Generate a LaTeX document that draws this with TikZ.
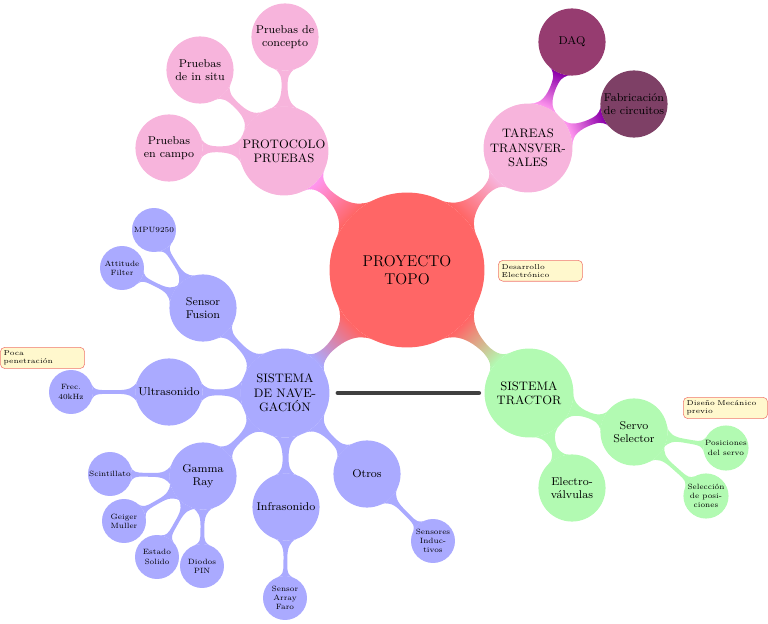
\documentclass[tikz,border=0pt]{standalone}
\usetikzlibrary{mindmap,shadings,decorations}
\pgfdeclarelayer{background}
\pgfsetlayers{background,main}
\definecolor{redc}{RGB}{255,102,102}
\definecolor{pinkc}{RGB}{247,180,220}
\definecolor{pinkbar}{RGB}{255,150,238}
\definecolor{purplebar}{RGB}{140,0,170}
\definecolor{daqc}{RGB}{150,60,112}
\definecolor{fabc}{RGB}{126,64,102}
\definecolor{bluec}{RGB}{170,170,255}
\definecolor{greenc}{RGB}{178,250,178}
\definecolor{notefill}{RGB}{255,248,205}
\definecolor{noteline}{RGB}{240,120,110}
\begin{document}
\begin{tikzpicture}[x=0.7346pt,y=-0.7346pt,
  cpt/.style={circle, inner sep=0pt, align=center, text=black, line width=0.8pt},
  cf/.style={fill=#1, draw=#1},
  rootc/.style={cpt, cf=redc, minimum size=113pt, font=\fontsize{11.5}{13.5}\selectfont},
  lone/.style={cpt, minimum size=64.5pt, font=\fontsize{9}{10.5}\selectfont},
  ltwo/.style={cpt, minimum size=48.5pt, font=\fontsize{8.3}{9.8}\selectfont},
  lthree/.style={cpt, minimum size=31.5pt, font=\fontsize{5.6}{6.8}\selectfont},
  note/.style={rectangle, rounded corners=3.5pt, draw=noteline, fill=notefill, align=left,
    font=\fontsize{5.2}{6.1}\selectfont, inner sep=2.5pt, text width=57pt, minimum height=15.4pt, anchor=north west},
  sep/.style={line width=3pt, black!75, line cap=round},
]
\useasboundingbox (0,0) rectangle (768,624);

% root
\node[rootc] (root) at (407,270) {PROYECTO\\TOPO};

% protocolo
\node[lone, cf=pinkc] (proto) at (284,151) {PROTOCOLO\\PRUEBAS};
\node[ltwo, cf=pinkc] (campo) at (169,148) {Pruebas\\en campo};
\node[ltwo, cf=pinkc] (insitu) at (200,70) {Pruebas\\de in situ};
\node[ltwo, cf=pinkc] (concepto) at (285,37) {Pruebas de\\concepto};

% tareas
\node[lone, cf=pinkc] (tareas) at (528,148) {TAREAS\\TRANSVER-\\SALES};
\node[ltwo, cf=daqc] (daq) at (572,42) {DAQ};
\node[ltwo, cf=fabc] (fab) at (634,104) {Fabricación\\de circuitos};

% navegacion
\node[lone, cf=bluec] (nav) at (285,393) {SISTEMA\\DE NAVE-\\GACIÓN};
\node[ltwo, cf=bluec] (fusion) at (203,308) {Sensor\\Fusion};
\node[lthree, cf=bluec] (mpu) at (154,230) {MPU9250};
\node[lthree, cf=bluec] (attitude) at (122,268) {Attitude\\Filter};
\node[ltwo, cf=bluec] (ultra) at (169,392) {Ultrasonido};
\node[lthree, cf=bluec] (frec) at (71,392) {Frec.\\40kHz};
\node[ltwo, cf=bluec] (gamma) at (203,476) {Gamma\\Ray};
\node[lthree, cf=bluec] (scint) at (110,474) {Scintillato};
\node[lthree, cf=bluec] (geiger) at (124,521) {Geiger\\Muller};
\node[lthree, cf=bluec] (estado) at (157,557) {Estado\\Solido};
\node[lthree, cf=bluec] (diodos) at (202,566) {Diodos\\PIN};
\node[ltwo, cf=bluec] (infra) at (286,507) {Infrasonido};
\node[lthree, cf=bluec] (faro) at (285,598) {Sensor\\Array\\Faro};
\node[ltwo, cf=bluec] (otros) at (367,474) {Otros};
\node[lthree, cf=bluec] (induct) at (433,541) {Sensores\\Induc-\\tivos};

% tractor
\node[lone, cf=greenc] (tractor) at (529,393) {SISTEMA\\TRACTOR};
\node[ltwo, cf=greenc] (electro) at (572,488) {Electro-\\válvulas};
\node[ltwo, cf=greenc] (servo) at (634,432) {Servo\\Selector};
\node[lthree, cf=greenc] (posic) at (726,448) {Posiciones\\del servo};
\node[lthree, cf=greenc] (selec) at (706,496) {Selección\\de posi-\\ciones};

% annotations
\node[note] (n1) at (498,260) {Desarrollo\\Electrónico};
\node[note] (n2) at (0,347) {Poca\\penetración};
\node[note] (n3) at (683,397) {Diseño Mecánico\\previo};

\begin{pgfonlayer}{background}
\path (root) to[circle connection bar switch color=from (redc) to (pinkbar)] (proto);
\path (root) to[circle connection bar switch color=from (redc) to (pinkc)] (tareas);
\path (root) to[circle connection bar switch color=from (redc) to (bluec)] (nav);
\path (root) to[circle connection bar switch color=from (redc) to (greenc)] (tractor);

\path (proto) to[circle connection bar switch color=from (pinkc) to (pinkc)] (campo);
\path (proto) to[circle connection bar switch color=from (pinkc) to (pinkc)] (insitu);
\path (proto) to[circle connection bar switch color=from (pinkc) to (pinkc)] (concepto);

\path (tareas) to[circle connection bar switch color=from (pinkbar) to (purplebar)] (daq);
\path (tareas) to[circle connection bar switch color=from (pinkbar) to (purplebar)] (fab);

\path (nav) to[circle connection bar switch color=from (bluec) to (bluec)] (fusion);
\path (fusion) to[circle connection bar switch color=from (bluec) to (bluec)] (mpu);
\path (fusion) to[circle connection bar switch color=from (bluec) to (bluec)] (attitude);
\path (nav) to[circle connection bar switch color=from (bluec) to (bluec)] (ultra);
\path (ultra) to[circle connection bar switch color=from (bluec) to (bluec)] (frec);
\path (nav) to[circle connection bar switch color=from (bluec) to (bluec)] (gamma);
\path (gamma) to[circle connection bar switch color=from (bluec) to (bluec)] (scint);
\path (gamma) to[circle connection bar switch color=from (bluec) to (bluec)] (geiger);
\path (gamma) to[circle connection bar switch color=from (bluec) to (bluec)] (estado);
\path (gamma) to[circle connection bar switch color=from (bluec) to (bluec)] (diodos);
\path (nav) to[circle connection bar switch color=from (bluec) to (bluec)] (infra);
\path (infra) to[circle connection bar switch color=from (bluec) to (bluec)] (faro);
\path (nav) to[circle connection bar switch color=from (bluec) to (bluec)] (otros);
\path (otros) to[circle connection bar switch color=from (bluec) to (bluec)] (induct);

\path (tractor) to[circle connection bar switch color=from (greenc) to (greenc)] (electro);
\path (tractor) to[circle connection bar switch color=from (greenc) to (greenc)] (servo);
\path (servo) to[circle connection bar switch color=from (greenc) to (greenc)] (posic);
\path (servo) to[circle connection bar switch color=from (greenc) to (greenc)] (selec);
\end{pgfonlayer}

\draw[sep, shorten <=6pt, shorten >=4pt] (nav) -- (tractor);
\end{tikzpicture}
\end{document}
